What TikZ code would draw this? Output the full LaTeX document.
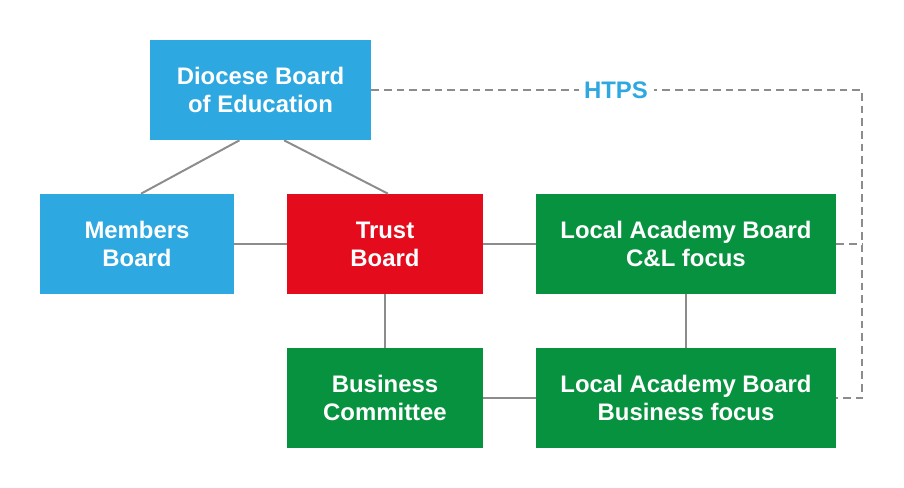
\documentclass[tikz,border=0pt]{standalone}
\usepackage{fontspec}
\setmainfont{Liberation Sans}
\usepackage{tikz}
\usetikzlibrary{calc}
\usetikzlibrary{positioning}

\definecolor{dbeblue}{HTML}{2EA8E0}
\definecolor{trustred}{HTML}{E30B1C}
\definecolor{labgreen}{HTML}{07923F}
\definecolor{linkgrey}{HTML}{8C8C8C}

\begin{document}
\begin{tikzpicture}[x=0.025cm, y=-0.025cm,
	board/.style={rectangle, draw=none, text=white, align=center,
	              font=\fontsize{17}{20}\selectfont\bfseries,
	              minimum height=2.5cm, inner sep=0pt},
	link/.style={draw=linkgrey, line width=1.4pt},
	dotlink/.style={draw=linkgrey, line width=1.2pt, dash pattern=on 5.5pt off 3.5pt}]
	\useasboundingbox (0,0) rectangle (904,488);
	\begin{scope}[every node/.style={board}]
		\node[fill=dbeblue, minimum width=5.525cm] (dbe) at (260.5,90) {Diocese Board\\of Education};
		\node[fill=dbeblue, minimum width=4.85cm] (members) at (137,244) {Members\\Board};
		\node[fill=trustred, minimum width=4.875cm] (trust) at (385,244) {Trust\\Board};
		\node[fill=labgreen, minimum width=7.5cm] (labcl) at (686,244) {Local Academy Board\\C\&L focus};
		\node[fill=labgreen, minimum width=4.875cm] (business) at (385,398) {Business\\Committee};
		\node[fill=labgreen, minimum width=7.5cm] (labbus) at (686,398) {Local Academy Board\\Business focus};
	\end{scope}
	\coordinate (htpstop) at (862,90);
	\coordinate (htpsmid) at (862,244);
	\coordinate (htpsbot) at (862,398);
	% solid links
	\begin{scope}[every path/.style={link}]
		\path ($(dbe.south)+(-21,0)$) edge ($(members.north)+(4,0)$);
		\path ($(dbe.south)+(23.5,0)$) edge ($(trust.north)+(3,0)$);
		\path (members) edge (trust);
		\path (trust) edge (labcl);
		\path (trust) edge (business);
		\path (labcl) edge (labbus);
		\path (business) edge (labbus);
	\end{scope}
	% HTPS dashed link
	\draw[dotlink] (dbe.east) -- (htpstop) -- (htpsbot) -- (labbus.east);
	\draw[dotlink] (labcl.east) -- (htpsmid);
	\node[fill=white, text=dbeblue, font=\fontsize{17}{20}\selectfont\bfseries, inner sep=4pt] (htps) at (616,90) {HTPS};
\end{tikzpicture}
\end{document}
